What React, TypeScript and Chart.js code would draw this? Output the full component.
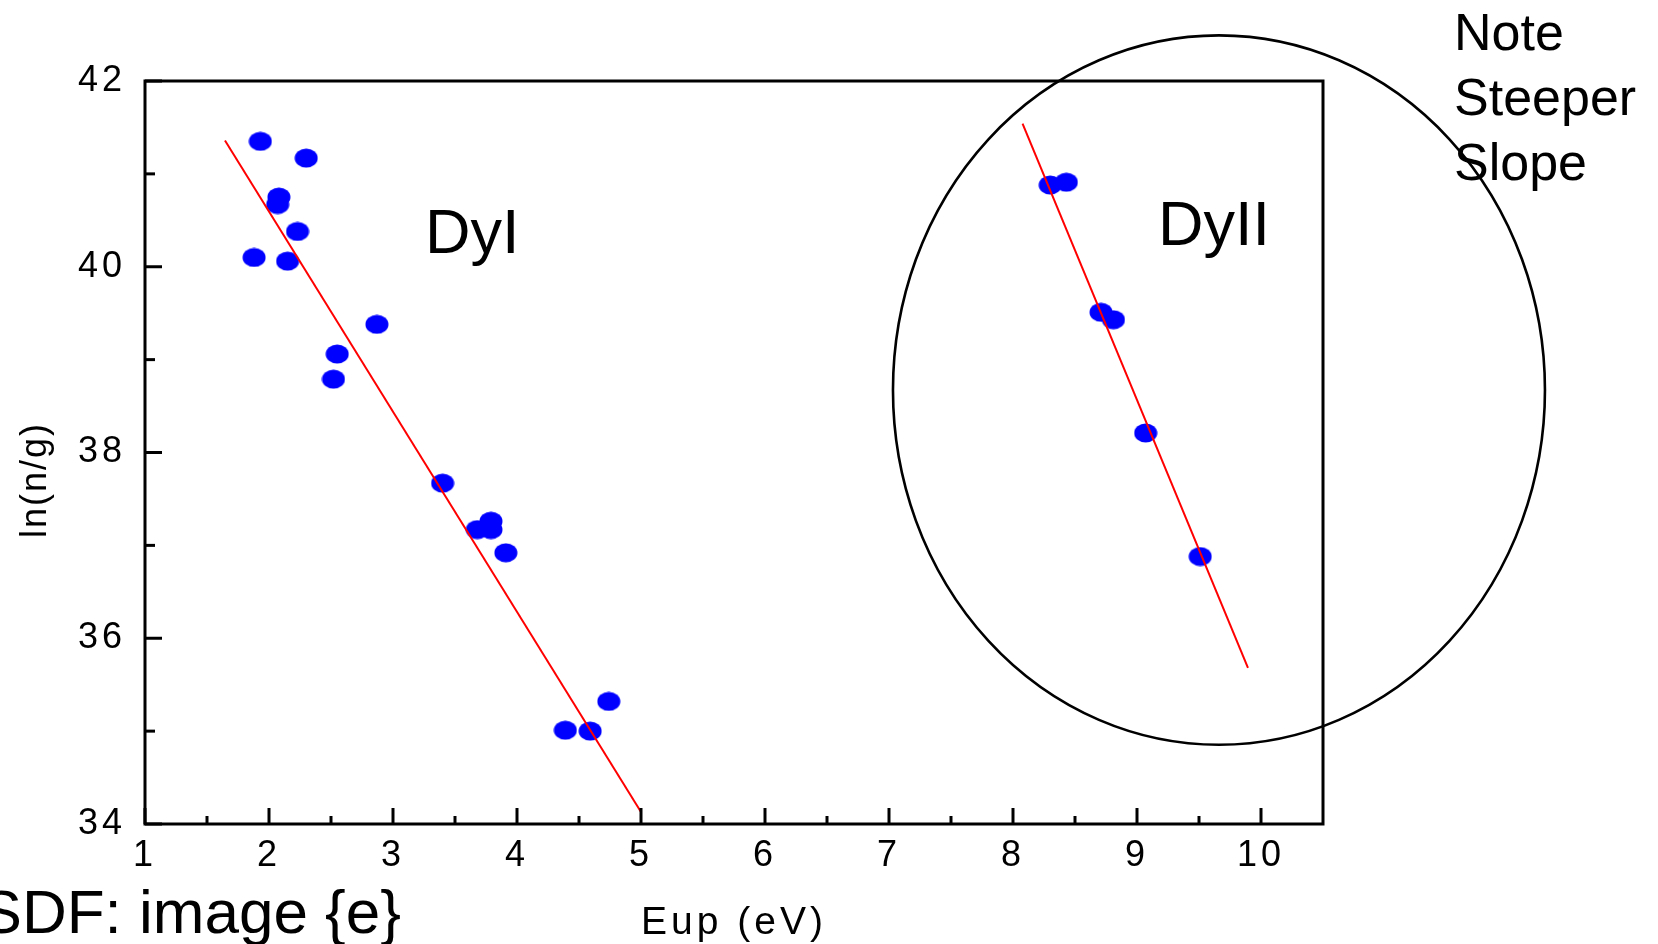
import React, { useEffect, useRef } from 'react';
import { Chart, registerables } from 'chart.js';

Chart.register(...registerables);

// ---- data ----
const dyIEnergy = [1.93, 2.30, 2.08, 2.07, 2.23, 1.88, 2.15, 2.87, 2.55, 2.52, 3.40, 3.68, 3.79, 3.79, 3.91, 4.39, 4.59, 4.74];
const dyILnNg = [41.35, 41.17, 40.75, 40.67, 40.38, 40.10, 40.06, 39.38, 39.06, 38.79, 37.67, 37.17, 37.26, 37.17, 36.92, 35.01, 35.00, 35.32];
const dyIIEnergy = [8.30, 8.43, 8.71, 8.81, 9.07, 9.51];
const dyIILnNg = [40.88, 40.91, 39.51, 39.43, 38.21, 36.88];
const dyIFitEnergy = [1.645, 5.0];
const dyIFitLnNg = [41.36, 34.13];
const dyIIFitEnergy = [8.077, 9.895];
const dyIIFitLnNg = [41.54, 35.68];
const xTickLabels = ['1', '2', '3', '4', '5', '6', '7', '8', '9', '10'];
const yTickLabels = ['34', '36', '38', '40', '42'];
const xMinorTicks = [1.5, 2.5, 3.5, 4.5, 5.5, 6.5, 7.5, 8.5, 9.5];
const yMinorTicks = [35, 37, 39, 41];
// highlight ellipse (data units): center energy, center ln(n/g), half-width, half-height
const circleCenter = [9.661, 38.672];
const circleRadii = [2.629, 3.819];

const FONT = "'Liberation Sans', Arial, Helvetica, sans-serif";

export default function App() {
  const ref = useRef<HTMLCanvasElement>(null);

  useEffect(() => {
    const canvas = ref.current!;
    const marker = document.createElement('canvas');
    marker.width = 24;
    marker.height = 20;
    const mctx = marker.getContext('2d')!;
    mctx.fillStyle = '#0000ff';
    mctx.beginPath();
    mctx.ellipse(12, 10, 11.5, 9.5, 0, 0, Math.PI * 2);
    mctx.fill();

    const pts = (xs: number[], ys: number[]) => xs.map((x, i) => ({ x, y: ys[i] }));

    const decor = {
      id: 'decor',
      beforeDraw(c: any) {
        c.ctx.letterSpacing = '4px';
      },
      afterDraw(c: any) {
        const ctx = c.ctx as CanvasRenderingContext2D;
        const xs = c.scales.x;
        const ys = c.scales.y;
        const a = c.chartArea;
        ctx.save();
        (ctx as any).letterSpacing = '0px';
        ctx.strokeStyle = '#000';
        ctx.lineWidth = 3;
        ctx.strokeRect(a.left, a.top, a.right - a.left, a.bottom - a.top);
        // inward ticks
        const xMajor = xTickLabels.map(Number);
        const yMajor = yTickLabels.map(Number);
        xMajor.forEach((v) => {
          const px = xs.getPixelForValue(v);
          ctx.beginPath(); ctx.moveTo(px, a.bottom); ctx.lineTo(px, a.bottom - 16); ctx.stroke();
        });
        xMinorTicks.forEach((v) => {
          const px = xs.getPixelForValue(v);
          ctx.beginPath(); ctx.moveTo(px, a.bottom); ctx.lineTo(px, a.bottom - 8); ctx.stroke();
        });
        yMajor.forEach((v) => {
          const py = ys.getPixelForValue(v);
          ctx.beginPath(); ctx.moveTo(a.left, py); ctx.lineTo(a.left + 17, py); ctx.stroke();
        });
        yMinorTicks.forEach((v) => {
          const py = ys.getPixelForValue(v);
          ctx.beginPath(); ctx.moveTo(a.left, py); ctx.lineTo(a.left + 10, py); ctx.stroke();
        });
        // ellipse
        const cx = xs.getPixelForValue(circleCenter[0]);
        const cy = ys.getPixelForValue(circleCenter[1]);
        const rx = Math.abs(xs.getPixelForValue(circleCenter[0] + circleRadii[0]) - cx);
        const ry = Math.abs(ys.getPixelForValue(circleCenter[1] + circleRadii[1]) - cy);
        ctx.lineWidth = 2.6;
        ctx.beginPath();
        ctx.ellipse(cx, cy, rx, ry, 0, 0, Math.PI * 2);
        ctx.stroke();
        // texts
        ctx.fillStyle = '#000';
        ctx.textAlign = 'left';
        ctx.textBaseline = 'alphabetic';
        ctx.font = `63px ${FONT}`;
        ctx.fillText('DyI', 425, 253);
        ctx.fillText('DyII', 1158, 245);
        ctx.font = `52px ${FONT}`;
        ctx.fillText('Note', 1454, 50);
        ctx.fillText('Steeper', 1454, 115);
        ctx.fillText('Slope', 1454, 180);
        ctx.font = `62px ${FONT}`;
        ctx.textAlign = 'right';
        ctx.fillText('SDF: image {e}', 401, 933);
        // y axis title
        ctx.translate(36, 480);
        ctx.rotate(-Math.PI / 2);
        ctx.textAlign = 'center';
        ctx.textBaseline = 'middle';
        ctx.font = `36px ${FONT}`;
        (ctx as any).letterSpacing = '2px';
        ctx.fillText('ln(n/g)', 0, 0);
        ctx.restore();
      },
    };

    const chart = new Chart(canvas, {
      type: 'scatter',
      data: {
        datasets: [
          {
            label: 'DyI fit',
            data: pts(dyIFitEnergy, dyIFitLnNg),
            showLine: true,
            borderColor: '#ff0000',
            borderWidth: 2,
            pointRadius: 0,
            order: 0,
          },
          {
            label: 'DyII fit',
            data: pts(dyIIFitEnergy, dyIIFitLnNg),
            showLine: true,
            borderColor: '#ff0000',
            borderWidth: 2,
            pointRadius: 0,
            order: 0,
          },
          {
            label: 'DyI',
            data: pts(dyIEnergy, dyILnNg),
            pointStyle: marker as any,
            pointRadius: 11,
            backgroundColor: '#0000ff',
            borderColor: '#0000ff',
            order: 1,
          },
          {
            label: 'DyII',
            data: pts(dyIIEnergy, dyIILnNg),
            pointStyle: marker as any,
            pointRadius: 11,
            backgroundColor: '#0000ff',
            borderColor: '#0000ff',
            order: 1,
          },
        ],
      },
      options: {
        animation: false,
        responsive: false,
        maintainAspectRatio: false,
        events: [],
        layout: { padding: { left: 0, top: 81, right: 335, bottom: 0 } },
        plugins: { legend: { display: false }, tooltip: { enabled: false }, title: { display: false } },
        scales: {
          x: {
            type: 'linear',
            position: 'bottom',
            min: 1,
            max: 10.5,
            grid: { display: false, drawTicks: false },
            border: { display: false },
            ticks: {
              stepSize: 1,
              includeBounds: false,
              padding: 10,
              color: '#000',
              font: { family: FONT, size: 36 },
              maxRotation: 0,
              autoSkip: false,
              callback: (v: any) => (xTickLabels.includes(String(v)) ? String(v) : ''),
            },
            title: {
              display: true,
              text: 'Eup (eV)',
              color: '#000',
              font: { family: FONT, size: 39 },
              padding: { top: 0, bottom: -3 },
            },
            afterFit: (s: any) => { s.height = 120; },
          },
          y: {
            type: 'linear',
            position: 'left',
            min: 34,
            max: 42,
            grid: { display: false, drawTicks: false },
            border: { display: false },
            ticks: {
              stepSize: 2,
              padding: 19,
              color: '#000',
              font: { family: FONT, size: 36 },
              callback: (v: any) => (yTickLabels.includes(String(v)) ? String(v) : ''),
            },
            afterFit: (s: any) => { s.width = 145; },
          },
        },
      },
      plugins: [decor],
    });
    return () => chart.destroy();
  }, []);

  return (
    <div style={{ position: 'fixed', left: 0, top: 0, width: 1658, height: 944, background: '#fff' }}>
      <canvas ref={ref} width={1658} height={944} style={{ width: 1658, height: 944, display: 'block' }} />
    </div>
  );
}
